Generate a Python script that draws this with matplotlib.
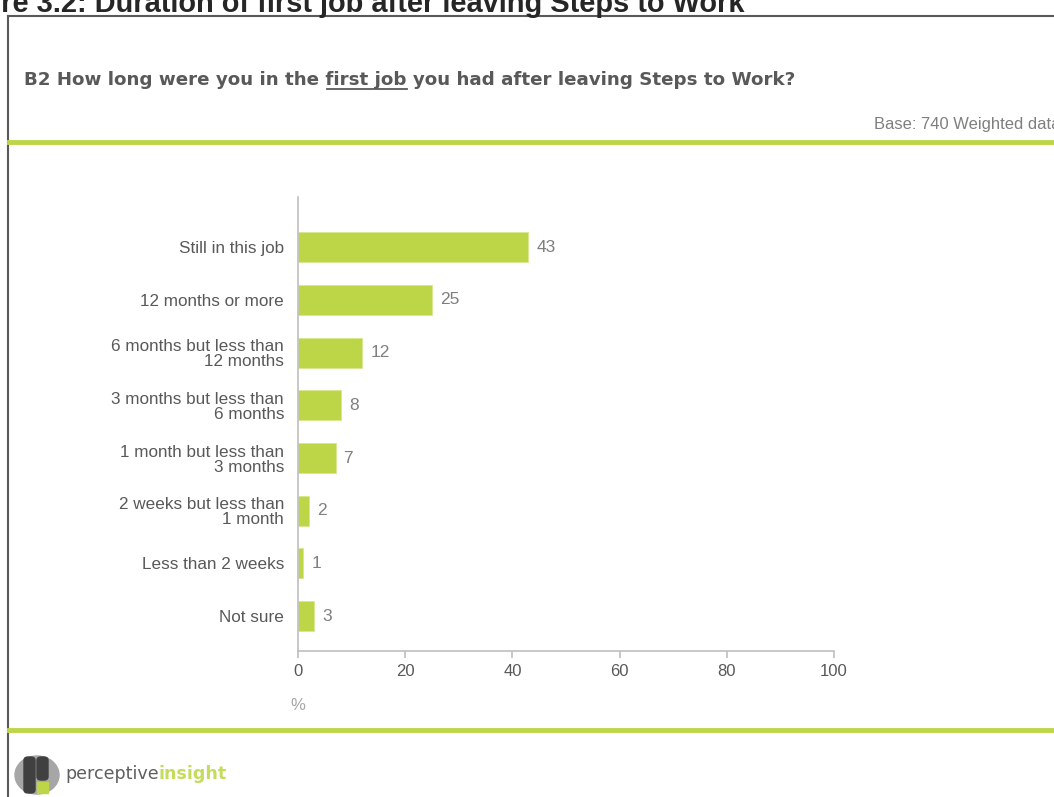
import matplotlib.pyplot as plt
import numpy as np
from matplotlib.lines import Line2D
from matplotlib.patches import Ellipse, FancyBboxPatch, Rectangle

# 数据
categories = ['Still in this job', '12 months or more', '6 months but less than\n12 months',
              '3 months but less than\n6 months', '1 month but less than\n3 months',
              '2 weeks but less than\n1 month', 'Less than 2 weeks', 'Not sure']
values = [43, 25, 12, 8, 7, 2, 1, 3]
xticks = [0, 20, 40, 60, 80, 100]

W, H = 1054, 797
GREEN = '#bcd647'
GREY_TXT = '#595959'
AXIS = '#bfbfbf'

plt.rcParams['font.family'] = ['Liberation Sans', 'DejaVu Sans']

fig = plt.figure(figsize=(W / 100, H / 100), dpi=100)
r = fig.canvas.get_renderer()


def fx(x):
    return x / W


def fy(y):
    return 1 - y / H


def hline(y, x0, x1, color, lw):
    fig.add_artist(Line2D([fx(x0), fx(x1)], [fy(y), fy(y)], color=color, lw=lw))


def text_w(s, size, **kw):
    # 文字宽度（像素）
    t = fig.text(0, 0, s, fontsize=size, **kw)
    w = t.get_window_extent(r).width
    t.remove()
    return w


def fit(s, width, **kw):
    return 10 * width / text_w(s, 10, **kw)


# 图题（左侧被裁掉）
tkw = dict(fontweight='bold')
ts = fit('re 3.2: Duration of first job after leaving Steps to Work', 745, **tkw)
fig.text(fx(745), fy(12), 'Figure 3.2: Duration of first job after leaving Steps to Work',
         ha='right', va='baseline', fontsize=ts, color='#262626', **tkw)

# 外框
fig.add_artist(Line2D([fx(8), fx(8)], [fy(16), fy(H)], color='#595959', lw=1.5))
hline(16, 8, W, '#595959', 1.5)
hline(142, 9, W, GREEN, 3.5)
hline(730, 9, W, GREEN, 3.5)

# 问题标题，带下划线
question = 'B2 How long were you in the first job you had after leaving Steps to Work?'
qkw = dict(fontweight='bold', family='DejaVu Sans')
qs = fit(question, 798 - 24, **qkw)
fig.text(fx(24), fy(85), question, ha='left', va='baseline', fontsize=qs, color=GREY_TXT, **qkw)
ux0 = 24 + text_w('B2 How long were you in the ', qs, **qkw)
ux1 = 24 + text_w('B2 How long were you in the first job', qs, **qkw)
fig.add_artist(Line2D([fx(ux0 + 2), fx(ux1)], [fy(89), fy(89)], color=GREY_TXT, lw=1.3))

bs = fit('Base: 740 Weighted data', 185)
fig.text(fx(874), fy(129), 'Base: 740 Weighted data', ha='left', va='baseline',
         fontsize=bs, color='#7f7f7f')

# 条形图
ax = fig.add_axes([fx(298), fy(651), fx(834) - fx(298), (651 - 197) / H])
y = np.arange(len(categories))
ax.barh(y, values, height=0.57, color=GREEN, edgecolor='#d7e88f', linewidth=0.6)
for yi, v in zip(y, values):
    ax.text(v + 1.5, yi, str(v), va='center', ha='left', fontsize=12.5, color='#7f7f7f')

ax.set_xlim(0, 100)
ax.set_ylim(len(categories) - 1 + 0.66, -0.95)
ax.set_xticks(xticks)
ax.set_xticklabels([str(t) for t in xticks], fontsize=12, color=GREY_TXT)
ax.set_yticks(y)
ax.set_yticklabels(categories, fontsize=12.3, color=GREY_TXT, linespacing=1.0)
ax.tick_params(axis='y', length=0, pad=10)
ax.tick_params(axis='x', length=5, width=1.2, color=AXIS, pad=4, direction='out')
for s in ['top', 'right']:
    ax.spines[s].set_visible(False)
for s in ['left', 'bottom']:
    ax.spines[s].set_color(AXIS)
    ax.spines[s].set_linewidth(1.2)

fig.text(fx(298), fy(710), '%', ha='center', va='baseline', fontsize=12, color='#a6a6a6')

# 标志
fig.add_artist(Ellipse((fx(37), fy(775)), fx(44), 38 / H, color='#a6a6a6'))
fig.add_artist(FancyBboxPatch((fx(24), fy(793)), fx(11), 36 / H,
                              boxstyle='round,pad=0,rounding_size=0.004', color='#404040'))
fig.add_artist(FancyBboxPatch((fx(37), fy(780)), fx(11), 23 / H,
                              boxstyle='round,pad=0,rounding_size=0.004', color='#404040'))
fig.add_artist(Rectangle((fx(37), fy(793)), fx(11), 11 / H, color=GREEN))
lkw = dict(family='DejaVu Sans')
ls = fit('perceptive', 93, **lkw)
fig.text(fx(65), fy(779), 'perceptive', ha='left', va='baseline', fontsize=ls, color='#5f5f5f', **lkw)
fig.text(fx(65 + text_w('perceptive', ls, **lkw)), fy(779), 'insight', ha='left', va='baseline',
         fontsize=ls, color='#c4dc5c', fontweight='bold', **lkw)

plt.savefig('out.png', dpi=100)
